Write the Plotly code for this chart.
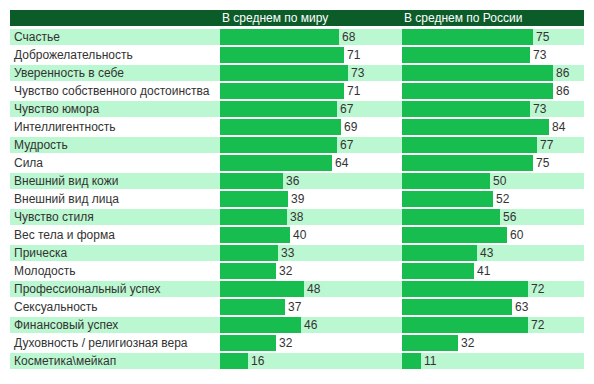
import plotly.graph_objects as go

categories = ["Счастье", "Доброжелательность", "Уверенность в себе",
              "Чувство собственного достоинства", "Чувство юмора", "Интеллигентность",
              "Мудрость", "Сила", "Внешний вид кожи", "Внешний вид лица", "Чувство стиля",
              "Вес тела и форма", "Прическа", "Молодость", "Профессиональный успех",
              "Сексуальность", "Финансовый успех", "Духовность / религиозная вера",
              "Косметика\\мейкап"]
world = [68, 71, 73, 71, 67, 69, 67, 64, 36, 39, 38, 40, 33, 32, 48, 37, 46, 32, 16]
russia = [75, 73, 86, 86, 73, 84, 77, 75, 50, 52, 56, 60, 43, 41, 72, 63, 72, 32, 11]
headers = ["В среднем по миру", "В среднем по России"]

OFF = 8  # page body margin
W, H = 594 - 2 * OFF, 384 - 2 * OFF
PITCH = 18.0
ROW0_CENTER = 37.0 - OFF
BAR_H = 16 / PITCH
FONT = "Arial, Liberation Sans, sans-serif"
TXT = "#333333"
BAR = "#17bd4e"
LIGHT = "#bbf7d0"
HEAD = "#0b5c29"


def px(x):
    return (x - OFF) / W


def py(y):
    return 1 - (y - OFF) / H


n = len(categories)
ypos = list(range(n))

fig = go.Figure()
for vals, ax in ((world, "x"), (russia, "x2")):
    fig.add_trace(go.Bar(
        x=vals, y=ypos, orientation="h", xaxis=ax, yaxis="y",
        width=[BAR_H] * n, marker=dict(color=BAR, line=dict(width=0)),
        text=[str(v) for v in vals], textposition="outside",
        textfont=dict(family=FONT, size=12, color=TXT),
        cliponaxis=False, hoverinfo="skip", showlegend=False,
    ))

shapes = []
for i in ypos:
    if i % 2 == 0:
        shapes.append(dict(type="rect", xref="paper", yref="y",
                           x0=px(10), x1=px(584), y0=i - BAR_H / 2, y1=i + BAR_H / 2,
                           fillcolor=LIGHT, line=dict(width=0), layer="below"))
shapes.append(dict(type="rect", xref="paper", yref="paper",
                   x0=px(10), x1=px(584), y0=py(26), y1=py(10),
                   fillcolor=HEAD, line=dict(width=0), layer="below"))

annotations = []
for i, c in enumerate(categories):
    annotations.append(dict(text=c, x=px(12), xref="paper", y=i, yref="y",
                            xanchor="left", yanchor="middle", showarrow=False,
                            font=dict(family=FONT, size=12, color=TXT)))
for hx, h in zip((220, 402), headers):
    annotations.append(dict(text=h, x=px(hx), xref="paper",
                            y=py(18), yref="paper", xanchor="left", yanchor="middle",
                            showarrow=False,
                            font=dict(family=FONT, size=12, color="#ffffff")))

top = -ROW0_CENTER / PITCH
bottom = top + H / PITCH
axis_common = dict(range=[0, 104], showgrid=False, zeroline=False,
                   showticklabels=False, showline=False, fixedrange=True)
fig.update_layout(
    width=W, height=H, margin=dict(l=0, r=0, t=0, b=0),
    paper_bgcolor="#ffffff", plot_bgcolor="rgba(0,0,0,0)",
    xaxis=dict(domain=[px(220), px(402)], **axis_common),
    xaxis2=dict(domain=[px(402), px(584)], anchor="y", **axis_common),
    yaxis=dict(range=[bottom, top], showgrid=False, zeroline=False,
               showticklabels=False, fixedrange=True),
    shapes=shapes, annotations=annotations, bargap=0,
    font=dict(family=FONT),
)
fig.write_html("out.html")
